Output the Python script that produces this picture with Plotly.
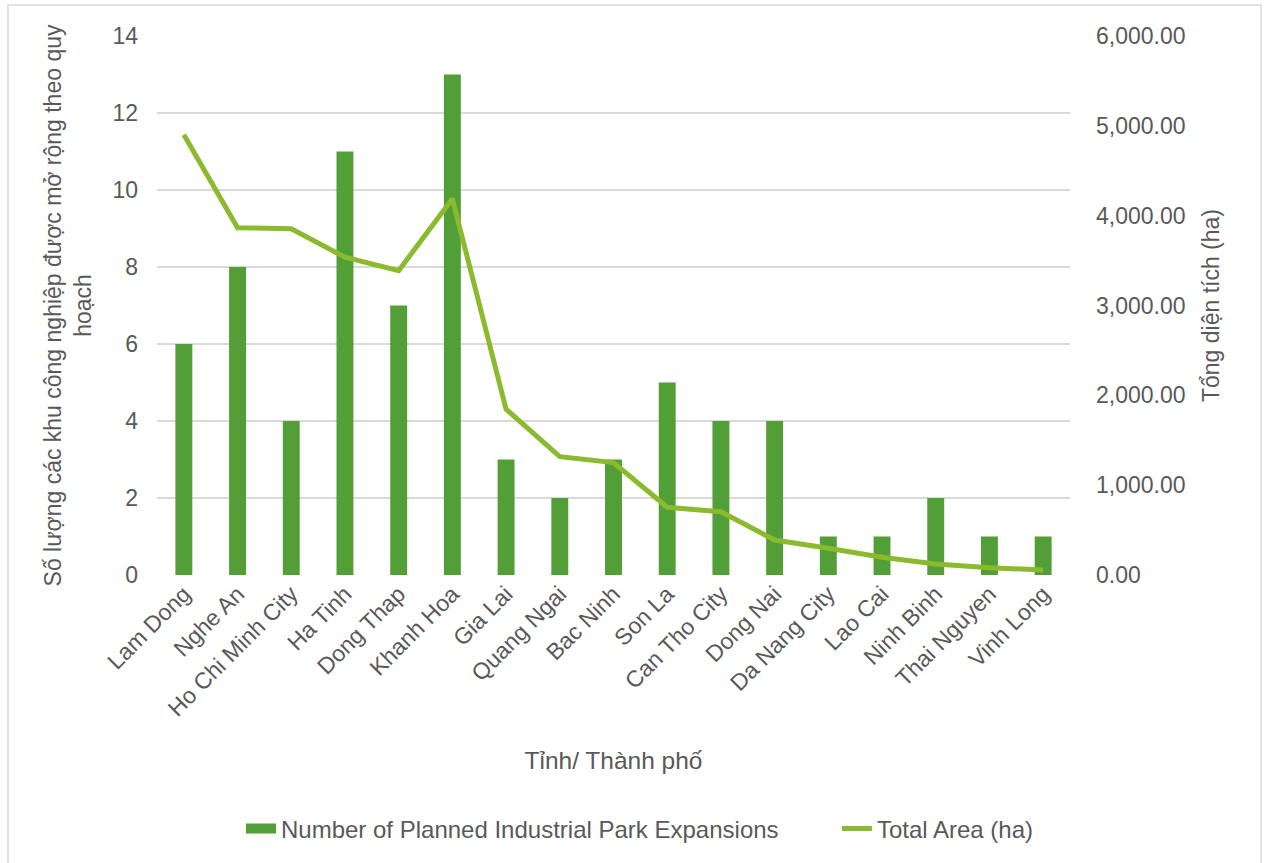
import plotly.graph_objects as go

provinces = ["Lam Dong", "Nghe An", "Ho Chi Minh City", "Ha Tinh", "Dong Thap",
             "Khanh Hoa", "Gia Lai", "Quang Ngai", "Bac Ninh", "Son La",
             "Can Tho City", "Dong Nai", "Da Nang City", "Lao Cai", "Ninh Binh",
             "Thai Nguyen", "Vinh Long"]
expansions = [6, 8, 4, 11, 7, 13, 3, 2, 3, 5, 4, 4, 1, 1, 2, 1, 1]
total_area = [4900, 3866, 3855, 3537, 3388, 4188, 1845, 1317, 1252, 754,
              705, 390, 297, 197, 122, 81, 56]

left_ticks = [0, 2, 4, 6, 8, 10, 12, 14]
right_ticks = [0, 1000, 2000, 3000, 4000, 5000, 6000]

FONT = "Liberation Sans, Arial, sans-serif"
TXT = "#595959"
BAR = "#529E37"
LINE = "#8BBA2F"
TICK_FS = 23
TITLE_FS = 23

bar_name = "Number of Planned Industrial Park Expansions"

fig = go.Figure()
fig.add_trace(go.Bar(
    x=provinces, y=expansions, name=bar_name, showlegend=False,
    legendgroup="bars", marker=dict(color=BAR, line=dict(width=0)), yaxis="y"))
# legend entry for the bars drawn as a wide swatch
fig.add_trace(go.Scatter(
    x=[None], y=[None], name=bar_name + "\u00a0" * 8, mode="lines", legendgroup="bars",
    line=dict(color=BAR, width=12), yaxis="y"))
fig.add_trace(go.Scatter(
    x=provinces, y=total_area, name="Total Area (ha)", mode="lines",
    line=dict(color=LINE, width=5), yaxis="y2"))

fig.update_layout(
    width=1267, height=863,
    margin=dict(l=157, r=197, t=36, b=288),
    paper_bgcolor="white", plot_bgcolor="white",
    font=dict(family=FONT, size=TICK_FS, color=TXT),
    bargap=0.685,
    showlegend=True,
    legend=dict(orientation="h", x=0.529, xanchor="center", y=-0.471, yanchor="middle",
                font=dict(size=24, color=TXT), itemwidth=30, tracegroupgap=0),
    xaxis=dict(
        tickangle=-45, tickfont=dict(size=TICK_FS, color=TXT),
        showgrid=False, showline=False, ticks="",
        title=dict(text="Tỉnh/ Thành phố", font=dict(size=24.5, color=TXT), standoff=31),
    ),
    yaxis=dict(
        range=[0, 14], tickvals=left_ticks, tickfont=dict(size=TICK_FS, color=TXT),
        showgrid=True, gridcolor="#D9D9D9", gridwidth=1.5, zeroline=False,
        showline=False, ticks="", ticklabelstandoff=18,
        title=dict(text="Số lượng các khu công nghiệp được mở rộng theo quy<br>hoạch",
                   font=dict(size=TITLE_FS, color=TXT), standoff=14),
    ),
    yaxis2=dict(
        range=[0, 6000], tickvals=right_ticks, tickformat=",.2f",
        tickfont=dict(size=TICK_FS, color=TXT), overlaying="y", side="right",
        showgrid=False, zeroline=False, showline=False, ticks="",
        ticklabelstandoff=25,
        title=dict(text="Tổng diện tích (ha)", font=dict(size=TITLE_FS, color=TXT), standoff=18),
    ),
    shapes=[dict(type="rect", xref="paper", yref="paper",
                 x0=(8 - 157) / 913, x1=(1261 - 157) / 913,
                 y0=(575 - 880) / 539, y1=(575 - 5) / 539,
                 line=dict(color="#D9D9D9", width=1.5), fillcolor="rgba(0,0,0,0)",
                 layer="below")],
)

fig.write_html("out.html")
